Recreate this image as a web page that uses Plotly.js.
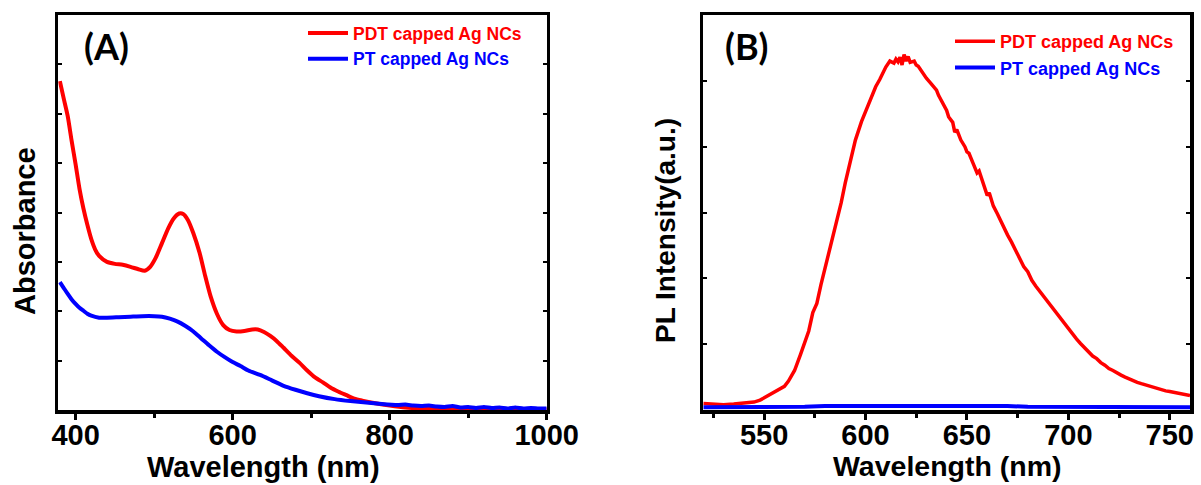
<!DOCTYPE html>
<html><head><meta charset="utf-8">
<script src="https://cdn.plot.ly/plotly-3.0.1.min.js"></script>
<style>html,body{margin:0;padding:0;background:#fff}#chart{width:1201px;height:485px}</style>
</head><body><div id="chart"></div>
<script>
// ---------- Panel A : UV-vis absorbance ----------
const absWavelengthPDT = [380,385,390,395,400,405,410,415,420,425,430,440,450,460,470,480,488,495,502,510,518,525,532,537,543,550,558,565,572,580,588,596,605,615,625,632,640,648,656,665,675,685,695,705,715,725,735,745,755,765,780,800,820,850,900,950,1000];
const absPDT = [6.66,6.30,5.95,5.45,4.98,4.48,4.08,3.75,3.46,3.25,3.12,3.00,2.96,2.94,2.90,2.85,2.82,2.90,3.08,3.38,3.68,3.88,3.98,3.97,3.85,3.58,3.18,2.72,2.30,1.95,1.72,1.62,1.59,1.60,1.63,1.63,1.58,1.50,1.40,1.26,1.10,0.96,0.80,0.66,0.56,0.45,0.37,0.30,0.23,0.19,0.14,0.09,0.05,0.025,0.015,0.01,0.01];
const absWavelengthPT = [380,385,390,395,400,405,410,415,420,430,440,455,470,485,500,510,520,530,540,550,560,570,580,590,600,610,620,635,650,665,680,695,710,730,750,770,790,810,820,830,840,850,860,870,880,890,900,910,920,930,940,950,960,970,980,990,1000];
const absPT = [2.59,2.47,2.35,2.24,2.15,2.07,2.01,1.95,1.91,1.87,1.87,1.88,1.89,1.90,1.90,1.89,1.85,1.79,1.70,1.59,1.45,1.31,1.18,1.07,0.97,0.89,0.80,0.71,0.60,0.49,0.41,0.34,0.28,0.22,0.18,0.15,0.12,0.10,0.11,0.09,0.08,0.09,0.07,0.06,0.08,0.05,0.06,0.04,0.06,0.04,0.05,0.03,0.05,0.03,0.04,0.03,0.03];

// ---------- Panel B : photoluminescence ----------
const plWavelengthPDT = [520,525,530,535,540,545,548,551,554,557,560,562,565,568,570,572,574,576,578,580,583,585,588,590,592,595,598,600,602,605,607,610,612,614,615,616,617,618,619,620,621,622,624,625,626,628,630,632,634,635,636,638,640,641,643,644,645,647,649,650,651,653,655,656,658,660,661,663,665,667,669,670,672,674,676,678,680,682,684,686,688,690,692,694,696,698,700,702,704,706,708,710,712,714,716,718,720,722,724,726,728,730,732,734,736,738,740,742,744,746,748,750,752,754,756,758,760];
const plPDT = [0.10,0.09,0.08,0.09,0.10,0.12,0.15,0.20,0.26,0.31,0.36,0.44,0.60,0.85,1.03,1.20,1.48,1.62,1.90,2.15,2.55,2.75,3.15,3.45,3.72,4.10,4.38,4.53,4.68,4.91,5.02,5.21,5.30,5.27,5.33,5.29,5.36,5.24,5.40,5.30,5.37,5.28,5.30,5.24,5.22,5.12,5.04,4.97,4.90,4.86,4.78,4.66,4.55,4.45,4.37,4.22,4.26,4.10,4.00,3.92,3.90,3.75,3.60,3.63,3.45,3.26,3.30,3.10,2.98,2.85,2.70,2.66,2.55,2.42,2.32,2.18,2.10,1.97,1.88,1.80,1.70,1.62,1.54,1.46,1.40,1.31,1.23,1.16,1.08,1.01,0.95,0.88,0.82,0.78,0.72,0.68,0.63,0.60,0.56,0.53,0.50,0.47,0.45,0.42,0.40,0.38,0.37,0.34,0.33,0.31,0.29,0.28,0.27,0.25,0.24,0.23,0.22];
const plWavelengthPT = [520,530,540,550,560,570,580,590,600,610,620,630,640,650,660,670,680,690,700,710,720,730,740,750,760];
const plPT = [0.04,0.04,0.05,0.04,0.05,0.05,0.06,0.06,0.06,0.07,0.06,0.07,0.07,0.07,0.06,0.06,0.05,0.05,0.05,0.04,0.05,0.04,0.04,0.04,0.04];

const legendNames = ['PDT capped Ag NCs', 'PT capped Ag NCs'];
const red = '#ff0000', blue = '#0000ff';

const FONT = 'Liberation Sans, Arial, sans-serif';

const traces = [
  {x: absWavelengthPDT, y: absPDT, xaxis: 'x', yaxis: 'y', type: 'scatter', mode: 'lines',
   line: {color: red, width: 4, shape: 'spline', smoothing: 0.6},
   name: '<span style="color:' + red + '">' + legendNames[0] + '</span>', legend: 'legend'},
  {x: absWavelengthPT, y: absPT, xaxis: 'x', yaxis: 'y', type: 'scatter', mode: 'lines',
   line: {color: blue, width: 4, shape: 'spline', smoothing: 0.6},
   name: '<span style="color:' + blue + '">' + legendNames[1] + '</span>', legend: 'legend'},
  {x: plWavelengthPDT, y: plPDT, xaxis: 'x2', yaxis: 'y2', type: 'scatter', mode: 'lines',
   line: {color: red, width: 3.5},
   name: '<span style="color:' + red + '">' + legendNames[0] + '</span>', legend: 'legend2'},
  {x: plWavelengthPT, y: plPT, xaxis: 'x2', yaxis: 'y2', type: 'scatter', mode: 'lines',
   line: {color: blue, width: 4},
   name: '<span style="color:' + blue + '">' + legendNames[1] + '</span>', legend: 'legend2'}
];

const tickFont = {family: FONT, size: 29, weight: 'bold', color: '#000'};
function xAxis(domain, range, tick0, dtick, minorDtick, anchor) {
  return {domain, range, anchor, showline: true, linewidth: 3.5, linecolor: '#000', mirror: true,
    ticks: 'outside', ticklen: 6, tickwidth: 3, tickcolor: '#000', tick0, dtick, ticklabelstandoff: -9,
    minor: {dtick: minorDtick, ticks: 'outside', ticklen: 4, tickwidth: 3, tickcolor: '#000', showgrid: false},
    tickfont: tickFont, showgrid: false, zeroline: false};
}
function yAxis(domain, range, anchor) {
  return {domain, range, anchor, showline: true, linewidth: 3.5, linecolor: '#000', mirror: 'ticks',
    ticks: 'inside', ticklen: 4, tickwidth: 2, tickcolor: '#000', dtick: 1,
    showticklabels: false, showgrid: false, zeroline: false};
}
const yDom = [1 - 410/485, 1 - 15/485];

function ann(text, px, py, size, family, angle) {
  return {text, x: px/1201, y: 1 - py/485, xref: 'paper', yref: 'paper', xanchor: 'center', yanchor: 'middle',
    showarrow: false, borderpad: 0, textangle: angle || 0, font: {family, size, weight: 'bold', color: '#000'}};
}

const layout = {
  width: 1201, height: 485,
  margin: {l: 0, r: 0, t: 0, b: 0},
  paper_bgcolor: '#fff', plot_bgcolor: '#fff',
  xaxis: xAxis([58.3/1201, 546.7/1201], [378, 1000], 400, 200, 100, 'y'),
  yaxis: yAxis(yDom, [0, 8], 'x'),
  xaxis2: xAxis([703.3/1201, 1190/1201], [520, 760], 500, 50, 25, 'y2'),
  yaxis2: yAxis(yDom, [0, 6], 'x2'),
  legend: {x: 303/1201, y: 1 - 15/485, xanchor: 'left', yanchor: 'top', bgcolor: 'rgba(0,0,0,0)',
    font: {family: FONT, size: 17.5, weight: 'bold', color: '#000'}, tracegroupgap: 0, itemwidth: 40},
  legend2: {x: 950/1201, y: 1 - 23/485, xanchor: 'left', yanchor: 'top', bgcolor: 'rgba(0,0,0,0)',
    font: {family: FONT, size: 18, weight: 'bold', color: '#000'}, tracegroupgap: 0, itemwidth: 40},
  showlegend: true,
  annotations: [
    ann('(A)', 106, 46, 36, 'Lato, sans-serif'),
    ann('(B)', 746, 46, 36, 'Lato, sans-serif'),
    ann('Absorbance', 25, 231, 29, FONT, -90),
    ann('PL Intensity(a.u.)', 665, 231, 28, FONT, -90),
    ann('Wavelength (nm)', 263, 467, 29, FONT),
    ann('Wavelength (nm)', 947.5, 466, 28.5, FONT)
  ]
};

Plotly.newPlot('chart', traces, layout, {displayModeBar: false, staticPlot: true});
</script>
</body></html>
